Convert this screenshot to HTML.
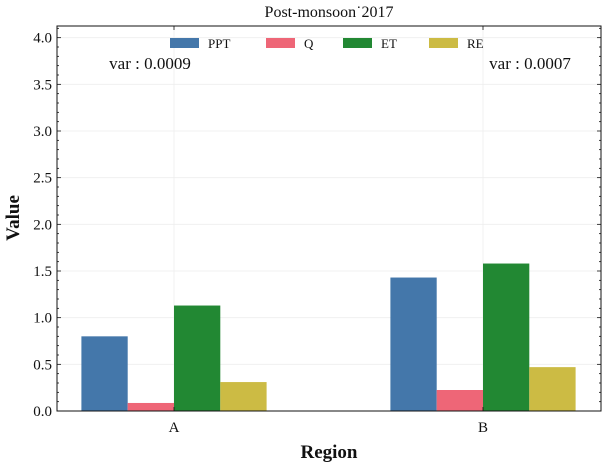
<!DOCTYPE html>
<html><head><meta charset="utf-8"><style>
body{margin:0;background:#fff}
svg text{font-family:"Liberation Serif",serif;fill:#111}
</style></head><body>
<svg id="c" width="604" height="469" xmlns="http://www.w3.org/2000/svg"></svg>
<script>
const categories=["A","B"];
const seriesNames=["PPT","Q","ET","RE"];
const seriesColors=["#4477aa","#ee6677","#228833","#ccbb44"];
const ppt=[0.80,1.43];
const q=[0.086,0.225];
const et=[1.13,1.58];
const re=[0.31,0.47];
const yTicks=[0,0.5,1.0,1.5,2.0,2.5,3.0,3.5,4.0];
const varLabels=["var : 0.0009","var : 0.0007"];
const series=[ppt,q,et,re];
const NS="http://www.w3.org/2000/svg";
const svg=document.getElementById('c');
const L=57,R=601,T=26,B=411,YMAX=4.125;
const y=v=>B-(v/YMAX)*(B-T);
const xc=i=>[174,483][i];
const bw=46.3;
function mk(tag,attrs,parent){const e=document.createElementNS(NS,tag);for(const k in attrs)e.setAttribute(k,attrs[k]);(parent||svg).appendChild(e);return e;}
yTicks.forEach(v=>{const g=mk('line',{x1:L,x2:R,y1:y(v),y2:y(v),stroke:'#eee','stroke-width':0.8});

});
categories.forEach((c,i)=>{const g=mk('line',{x1:xc(i),x2:xc(i),y1:T,y2:B,stroke:'#eee','stroke-width':0.8});

});
series.forEach((s,si)=>{s.forEach((v,i)=>{const x0=xc(i)-2*bw+si*bw;
const r=mk('rect',{x:x0,y:y(v),width:bw,height:B-y(v),fill:seriesColors[si]});

});});
const fr=mk('rect',{x:L,y:T,width:R-L,height:B-T,fill:'none',stroke:'#111','stroke-width':1});


for(let k=0;k<=41;k++){const v=k/10;const major=k%5===0;
mk('line',{x1:L,x2:L+(major?4:2),y1:y(v),y2:y(v),stroke:'#111','stroke-width':0.8});
mk('line',{x1:R,x2:R-(major?4:2),y1:y(v),y2:y(v),stroke:'#111','stroke-width':0.8});}
yTicks.forEach(v=>{const t=mk('text',{x:L-5,y:y(v)+5,'text-anchor':'end','font-size':15});t.textContent=v.toFixed(1);

});
categories.forEach((c,i)=>{mk('line',{x1:xc(i),x2:xc(i),y1:B,y2:B-4,stroke:'#111','stroke-width':0.8});
mk('line',{x1:xc(i),x2:xc(i),y1:T,y2:T+4,stroke:'#111','stroke-width':0.8});
const t=mk('text',{x:xc(i),y:432,'text-anchor':'middle','font-size':15});t.textContent=c;

});
const vx=[150,530];
varLabels.forEach((s,i)=>{const t=mk('text',{x:vx[i],y:69,'text-anchor':'middle','font-size':17});t.textContent=s;

});
const lx=[170,266,343,429];
seriesNames.forEach((n,i)=>{mk('rect',{x:lx[i],y:38,width:29,height:10,fill:seriesColors[i]});
const t=mk('text',{x:lx[i]+38,y:48,'font-size':13});t.textContent=n;

});
let t=mk('text',{x:329,y:17,'text-anchor':'middle','font-size':16});t.textContent='Post-monsoon˙2017';


t=mk('text',{x:329,y:458,'text-anchor':'middle','font-size':19,'font-weight':'bold'});t.textContent='Region';


t=mk('text',{x:0,y:0,'text-anchor':'middle','font-size':19,'font-weight':'bold',transform:'translate(19,218) rotate(-90)'});t.textContent='Value';


</script>
</body></html>
